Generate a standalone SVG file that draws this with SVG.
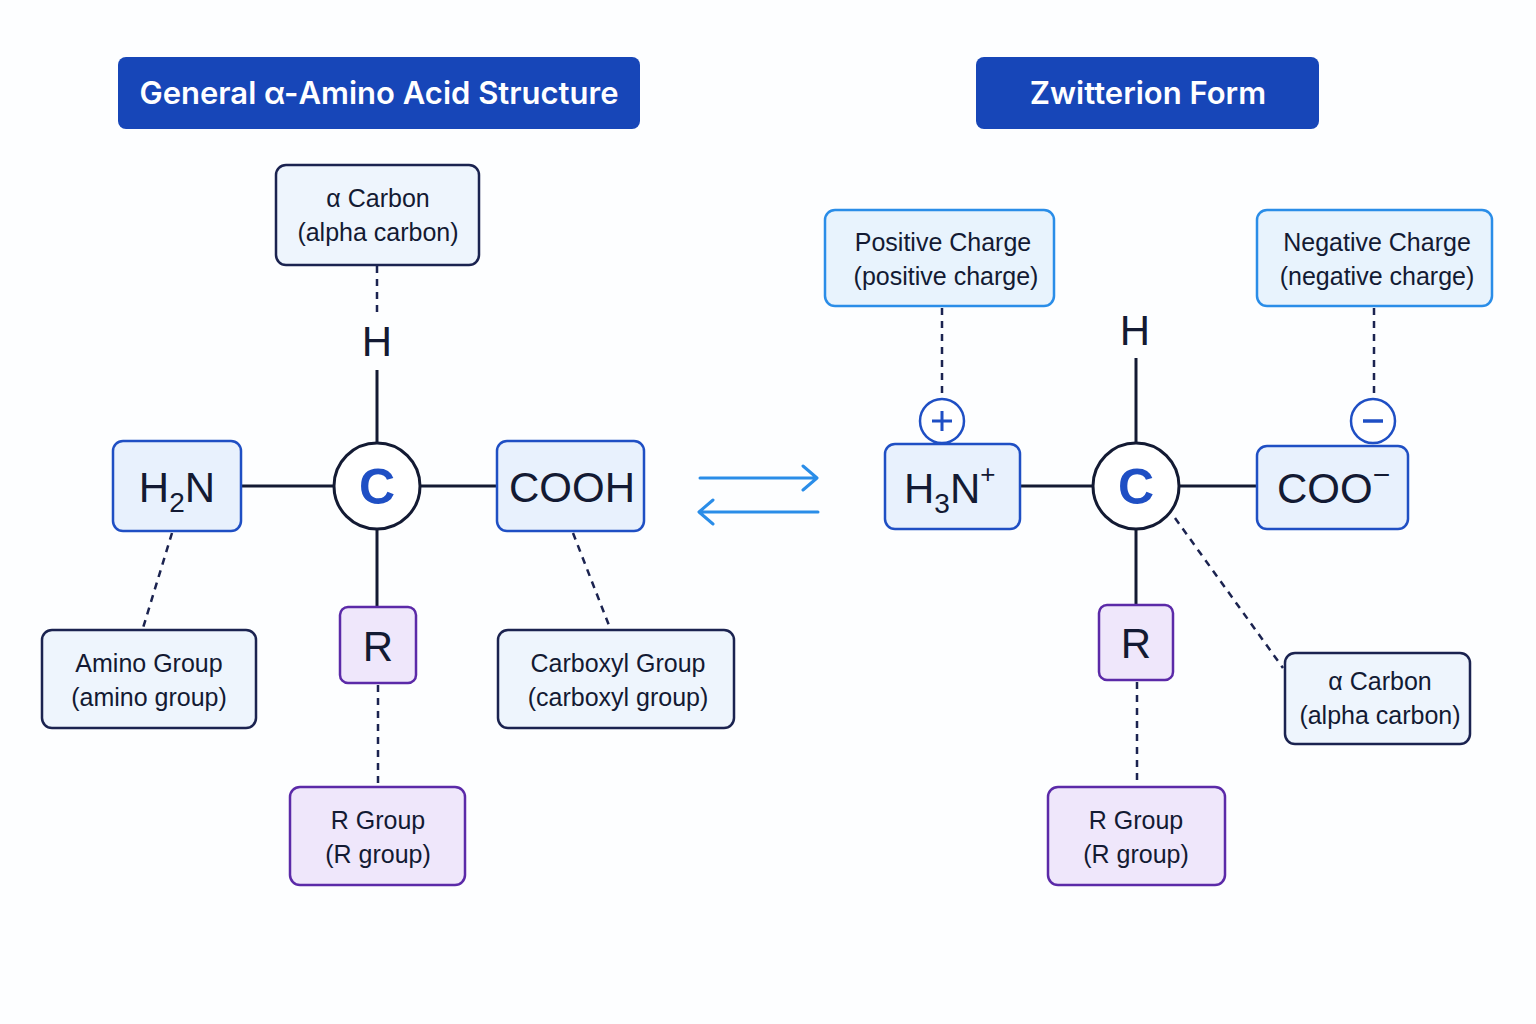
<svg xmlns="http://www.w3.org/2000/svg" width="1536" height="1024" viewBox="0 0 1536 1024">
<style>
.t{font-family:"Liberation Sans",Arial,sans-serif;fill:#131a33}
.title{font-family:Inter,"Liberation Sans",sans-serif;font-size:31px;font-weight:600;fill:#fff}
.lbl{font-size:25px}
.big{font-size:42px}
.blue{fill:#e8f1fd;stroke:#1f4fc4;stroke-width:2.5}
.purp{fill:#efe7fb;stroke:#5b2aa8;stroke-width:2.5}
.navy{fill:#eef5fd;stroke:#1b2350;stroke-width:2.5}
.bond{stroke:#131a33;stroke-width:3;fill:none}
.dash{stroke:#1b2350;stroke-width:2.5;stroke-dasharray:7 6;fill:none}
.arr{stroke:#2a8de8;stroke-width:3;fill:none;stroke-linecap:round;stroke-linejoin:round}
</style>
<rect width="1536" height="1024" fill="#fdfeff"/>
<g id="connectors">
<line class="dash" x1="377" y1="266" x2="377" y2="318"/>
<line class="dash" x1="172" y1="533" x2="143" y2="628"/>
<line class="dash" x1="573" y1="533" x2="610" y2="628"/>
<line class="dash" x1="378" y1="685" x2="378" y2="786"/>
<line class="bond" x1="241" y1="486" x2="334" y2="486"/>
<line class="bond" x1="420" y1="486" x2="497" y2="486"/>
<line class="bond" x1="377" y1="370" x2="377" y2="443"/>
<line class="bond" x1="377" y1="529" x2="377" y2="607"/>
<line class="dash" x1="942" y1="308" x2="942" y2="398"/>
<line class="dash" x1="1374" y1="308" x2="1374" y2="398"/>
<line class="dash" x1="1175" y1="518" x2="1283" y2="668"/>
<line class="dash" x1="1137" y1="682" x2="1137" y2="786"/>
<line class="bond" x1="1020" y1="486" x2="1093" y2="486"/>
<line class="bond" x1="1179" y1="486" x2="1257" y2="486"/>
<line class="bond" x1="1136" y1="358" x2="1136" y2="443"/>
<line class="bond" x1="1136" y1="529" x2="1136" y2="605"/>
<path class="arr" d="M700 478H816M803 466L817 478L803 490"/>
<path class="arr" d="M818 512H700M713 500L699 512L713 524"/>
</g>
<g id="title-left"><rect x="118" y="57" width="522" height="72" rx="8" fill="#1746b8"/><text class="title" x="379" y="104" text-anchor="middle">General α-Amino Acid Structure</text></g>
<g id="title-right"><rect x="976" y="57" width="343" height="72" rx="8" fill="#1746b8"/><text class="title" x="1148" y="104" text-anchor="middle">Zwitterion Form</text></g>
<g id="alpha-left"><rect class="navy" x="276" y="165" width="203" height="100" rx="10"/><text class="t lbl" x="378" y="207" text-anchor="middle">α Carbon</text><text class="t lbl" x="378" y="241" text-anchor="middle">(alpha carbon)</text></g>
<g id="H-left"><text class="t big" x="377" y="356" text-anchor="middle">H</text></g>
<g id="C-left"><circle cx="377" cy="486" r="43" fill="#fff" stroke="#131a33" stroke-width="3"/><text class="t" x="377" y="504" text-anchor="middle" font-size="50" font-weight="bold" style="fill:#1f4fc4">C</text></g>
<g id="H2N"><rect class="blue" x="113" y="441" width="128" height="90" rx="10"/><text class="t big" x="177" y="502" text-anchor="middle">H<tspan font-size="28" dy="10">2</tspan><tspan dy="-10">N</tspan></text></g>
<g id="COOH"><rect class="blue" x="497" y="441" width="147" height="90" rx="10"/><text class="t big" x="572" y="502" text-anchor="middle">COOH</text></g>
<g id="R-left"><rect class="purp" x="340" y="607" width="76" height="76" rx="8"/><text class="t big" x="378" y="661" text-anchor="middle">R</text></g>
<g id="amino"><rect class="navy" x="42" y="630" width="214" height="98" rx="10"/><text class="t lbl" x="149" y="672" text-anchor="middle">Amino Group</text><text class="t lbl" x="149" y="706" text-anchor="middle">(amino group)</text></g>
<g id="carboxyl"><rect class="navy" x="498" y="630" width="236" height="98" rx="10"/><text class="t lbl" x="618" y="672" text-anchor="middle">Carboxyl Group</text><text class="t lbl" x="618" y="706" text-anchor="middle">(carboxyl group)</text></g>
<g id="rgroup-left"><rect class="purp" x="290" y="787" width="175" height="98" rx="10"/><text class="t lbl" x="378" y="829" text-anchor="middle">R Group</text><text class="t lbl" x="378" y="863" text-anchor="middle">(R group)</text></g>
<g id="positive"><rect x="825" y="210" width="229" height="96" rx="10" fill="#e8f3fd" stroke="#2a8de8" stroke-width="2.5"/><text class="t lbl" x="943" y="251" text-anchor="middle">Positive Charge</text><text class="t lbl" x="946" y="285" text-anchor="middle">(positive charge)</text></g>
<g id="negative"><rect x="1257" y="210" width="235" height="96" rx="10" fill="#e8f3fd" stroke="#2a8de8" stroke-width="2.5"/><text class="t lbl" x="1377" y="251" text-anchor="middle">Negative Charge</text><text class="t lbl" x="1377" y="285" text-anchor="middle">(negative charge)</text></g>
<g id="H-right"><text class="t big" x="1135" y="345" text-anchor="middle">H</text></g>
<g id="C-right"><circle cx="1136" cy="486" r="43" fill="#fff" stroke="#131a33" stroke-width="3"/><text class="t" x="1136" y="504" text-anchor="middle" font-size="50" font-weight="bold" style="fill:#1f4fc4">C</text></g>
<g id="plus"><circle cx="942" cy="421" r="22" fill="#fff" stroke="#1f4fc4" stroke-width="2.5"/><path d="M942 411V431M932 421H952" stroke="#1f4fc4" stroke-width="3"/></g>
<g id="minus"><circle cx="1373" cy="421" r="22" fill="#fff" stroke="#1f4fc4" stroke-width="2.5"/><path d="M1363 421H1383" stroke="#1f4fc4" stroke-width="3.5"/></g>
<g id="H3N"><rect class="blue" x="885" y="444" width="135" height="85" rx="10"/><text class="t big" x="904" y="503">H<tspan font-size="28" dy="10">3</tspan><tspan dy="-10">N</tspan><tspan font-size="26" dy="-20">+</tspan></text></g>
<g id="COO"><rect class="blue" x="1257" y="446" width="151" height="83" rx="10"/><text class="t big" x="1277" y="503">COO<tspan font-size="30" dy="-18">−</tspan></text></g>
<g id="R-right"><rect class="purp" x="1099" y="605" width="74" height="75" rx="8"/><text class="t big" x="1136" y="658" text-anchor="middle">R</text></g>
<g id="alpha-right"><rect class="navy" x="1285" y="653" width="185" height="91" rx="10"/><text class="t lbl" x="1380" y="690" text-anchor="middle">α Carbon</text><text class="t lbl" x="1380" y="724" text-anchor="middle">(alpha carbon)</text></g>
<g id="rgroup-right"><rect class="purp" x="1048" y="787" width="177" height="98" rx="10"/><text class="t lbl" x="1136" y="829" text-anchor="middle">R Group</text><text class="t lbl" x="1136" y="863" text-anchor="middle">(R group)</text></g>
</svg>
